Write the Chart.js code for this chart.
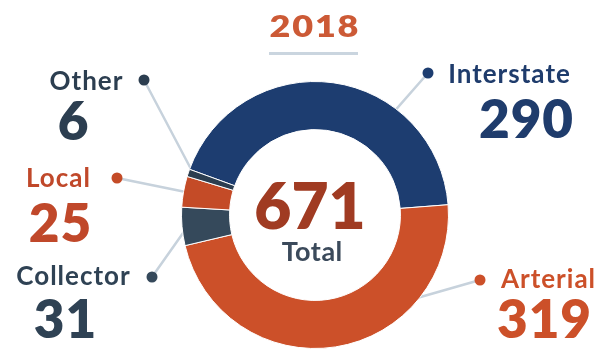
<!DOCTYPE html>
<html>
<head>
<meta charset="utf-8">
<script src="https://cdn.jsdelivr.net/npm/chart.js@4"></script>
<style>
  html, body { margin: 0; padding: 0; background: #ffffff; }
  #wrap { width: 597px; height: 350px; position: relative; }
</style>
</head>
<body>
<div id="wrap"><canvas id="c" width="597" height="350"></canvas></div>
<script>
// Fatalities by road type, 2018
const yearLabel = '2018';
const categories = ['Interstate', 'Arterial', 'Collector', 'Local', 'Other'];
const fatalities = [290, 319, 31, 25, 6];
const centerCaption = 'Total';

// Slice and text colours, in category order
const sliceColors = ['#1d3d70', '#cc5029', '#35495b', '#c44b27', '#2c3e50'];
const textColors  = ['#1f3c6c', '#cc5029', '#2f4254', '#c0482a', '#2c3e50'];

// Callout placement: dot position, label/value centres and baselines,
// and how far along the slice the leader line meets the ring.
const callouts = [
  { dot: [428, 73],  label: [509, 83],  value: [526, 138], along: 0.69 },
  { dot: [480, 280], label: [548, 288], value: [544, 338], along: 0.27 },
  { dot: [152, 277], label: [73, 285],  value: [65, 338],  along: 0.5 },
  { dot: [117, 178], label: [58, 187],  value: [60, 242],  along: 0.5 },
  { dot: [144, 80],  label: [86, 90],   value: [73, 140],  along: 0.5 }
];

const FONT = 'Lato, "Open Sans", sans-serif';
const total = fatalities.reduce((a, b) => a + b, 0);

// Centred text with letter spacing (the trailing gap is balanced out)
// and an optional horizontal stretch.
function spacedText(ctx, text, x, y, spacing, stretch) {
  const sx = stretch || 1;
  ctx.save();
  ctx.translate(x, y);
  ctx.scale(sx, 1);
  ctx.letterSpacing = spacing + 'px';
  ctx.fillText(text, spacing / 2, 0);
  ctx.restore();
}

const calloutPlugin = {
  id: 'callouts',
  beforeDatasetsDraw(chart) {
    const ctx = chart.ctx;
    const arcs = chart.getDatasetMeta(0).data;
    ctx.save();
    ctx.strokeStyle = '#c7d2dc';
    ctx.lineWidth = 2.5;
    ctx.lineCap = 'round';
    arcs.forEach((arc, i) => {
      const p = arc.getProps(['x', 'y', 'startAngle', 'endAngle', 'outerRadius'], true);
      const a = p.startAngle + (p.endAngle - p.startAngle) * callouts[i].along;
      const r = p.outerRadius - 6;
      ctx.beginPath();
      ctx.moveTo(callouts[i].dot[0], callouts[i].dot[1]);
      ctx.lineTo(p.x + Math.cos(a) * r, p.y + Math.sin(a) * r);
      ctx.stroke();
    });
    ctx.restore();
  },
  afterDraw(chart) {
    const ctx = chart.ctx;
    const arcs = chart.getDatasetMeta(0).data;
    const cx = arcs[0].x;
    ctx.save();
    ctx.textAlign = 'center';
    ctx.textBaseline = 'alphabetic';

    // Year heading with rule beneath
    ctx.fillStyle = '#cc5a36';
    ctx.font = '800 30px ' + FONT;
    spacedText(ctx, yearLabel, 314, 37, 1.5, 1.2);
    ctx.fillStyle = '#cad5df';
    ctx.fillRect(269, 52, 89, 3);

    // Centre total
    ctx.fillStyle = '#a03b22';
    ctx.font = '800 64px ' + FONT;
    ctx.fillText(String(total), cx - 5, 229);
    ctx.fillStyle = '#3b4a5b';
    ctx.font = '700 27px ' + FONT;
    spacedText(ctx, centerCaption, cx - 3, 261, 0.5);

    // Dots, category names and values
    callouts.forEach((c, i) => {
      ctx.fillStyle = sliceColors[i];
      ctx.beginPath();
      ctx.arc(c.dot[0], c.dot[1], 5.5, 0, Math.PI * 2);
      ctx.fill();
      ctx.fillStyle = textColors[i];
      ctx.font = '700 26px ' + FONT;
      spacedText(ctx, categories[i], c.label[0], c.label[1], 1);
      ctx.font = '800 53px ' + FONT;
      spacedText(ctx, String(fatalities[i]), c.value[0], c.value[1], 1);
    });
    ctx.restore();
  }
};

new Chart(document.getElementById('c'), {
  type: 'doughnut',
  data: {
    labels: categories,
    datasets: [{
      data: fatalities,
      backgroundColor: sliceColors,
      borderColor: '#ffffff',
      borderWidth: 1,
      hoverOffset: 0
    }]
  },
  options: {
    responsive: false,
    devicePixelRatio: 1,
    animation: false,
    rotation: -70,
    cutout: '64%',
    layout: { padding: { left: 181, right: 148, top: 81, bottom: 1 } },
    plugins: { legend: { display: false }, tooltip: { enabled: false } }
  },
  plugins: [calloutPlugin]
});
</script>
</body>
</html>
